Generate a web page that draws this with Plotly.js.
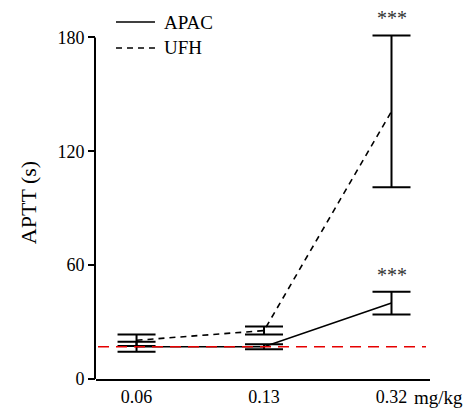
<!DOCTYPE html>
<html>
<head>
<meta charset="utf-8">
<script src="https://cdn.plot.ly/plotly-3.0.1.min.js"></script>
<style>html,body{margin:0;padding:0;background:#fff;}#chart{width:471px;height:410px;}</style>
</head>
<body>
<div id="chart"></div>
<script>
const doses = ["0.06", "0.13", "0.32"];
const doseUnit = "mg/kg";
const apacMean = [17, 17, 40];
const apacErr = [2.6, 1.3, 6];
const ufhMean = [20.4, 25.5, 141];
const ufhErr = [3, 2.1, 40];
const baselineAPTT = 17;
const yTicks = [0, 60, 120, 180];
const seriesNames = ["APAC", "UFH"];
const significance = ["", "", "***"];

const xIdx = doses.map((d, i) => i);
const FONT = "Liberation Serif, Times New Roman, serif";
const yAxisTop = yTicks[yTicks.length - 1];

const traces = [
  {
    x: xIdx, y: apacMean, name: seriesNames[0], type: "scatter", mode: "lines",
    line: {color: "black", width: 1.6},
    error_y: {type: "data", array: apacErr, visible: true, color: "black", thickness: 2, width: 19},
    cliponaxis: false, showlegend: false
  },
  {
    x: xIdx, y: ufhMean, name: seriesNames[1], type: "scatter", mode: "lines",
    line: {color: "black", width: 1.6, dash: "6px,5px"},
    error_y: {type: "data", array: ufhErr, visible: true, color: "black", thickness: 2, width: 19},
    cliponaxis: false, showlegend: false
  }
];

const annotations = [];
significance.forEach((s, i) => {
  if (!s) return;
  [[apacMean, apacErr], [ufhMean, ufhErr]].forEach(([m, e]) => {
    annotations.push({
      x: i, y: m[i] + e[i], xref: "x", yref: "y", text: s, showarrow: false,
      yshift: 17, font: {family: FONT, size: 20, color: "#333"}
    });
  });
});
annotations.push({
  x: 0.946, y: -0.051, xref: "paper", yref: "paper", text: doseUnit, showarrow: false,
  xanchor: "left", yanchor: "middle", font: {family: FONT, size: 19, color: "black"}
});
// manual legend labels
annotations.push({x: 0.1976, y: 1.0113, xref: "paper", yref: "paper", text: seriesNames[0], showarrow: false,
  xanchor: "left", yanchor: "middle", font: {family: FONT, size: 19, color: "black"}});
annotations.push({x: 0.1976, y: 0.9377, xref: "paper", yref: "paper", text: seriesNames[1], showarrow: false,
  xanchor: "left", yanchor: "middle", font: {family: FONT, size: 19, color: "black"}});

const shapes = [
  // y axis line, ending at the top tick
  {type: "line", xref: "paper", yref: "y", x0: -0.003, x1: -0.003, y0: 0, y1: yAxisTop,
   line: {color: "black", width: 2}, layer: "above"},
  {type: "line", xref: "paper", yref: "y", x0: 0.006, x1: 0.988, y0: baselineAPTT, y1: baselineAPTT,
   line: {color: "rgb(230,0,0)", width: 1.5, dash: "11px,7px"}, layer: "above"},
  {type: "line", xref: "paper", yref: "paper", x0: 0.0599, x1: 0.1766, y0: 1.0113, y1: 1.0113,
   line: {color: "black", width: 1.6}},
  {type: "line", xref: "paper", yref: "paper", x0: 0.0599, x1: 0.1766, y0: 0.9377, y1: 0.9377,
   line: {color: "black", width: 1.6, dash: "6px,5px"}}
];

const layout = {
  width: 471, height: 410,
  margin: {l: 96, r: 41, t: 26, b: 31},
  paper_bgcolor: "white", plot_bgcolor: "white",
  font: {family: FONT, color: "black"},
  showlegend: false,
  xaxis: {
    range: [-0.318, 2.302], tickvals: xIdx, ticktext: doses,
    showline: true, linewidth: 2, linecolor: "black", ticks: "",
    showgrid: false, zeroline: false, fixedrange: true,
    tickfont: {family: FONT, size: 18, color: "black"}
  },
  yaxis: {
    range: [0, 186], tickvals: yTicks, ticktext: yTicks.map(String),
    showline: false,
    ticks: "outside", ticklen: 7, tickwidth: 2, tickcolor: "black",
    showgrid: false, zeroline: false, fixedrange: true,
    tickfont: {family: FONT, size: 18, color: "black"},
    title: {text: "APTT (s)", font: {family: FONT, size: 22, color: "black"}, standoff: 14}
  },
  annotations: annotations,
  shapes: shapes
};

Plotly.newPlot("chart", traces, layout, {displayModeBar: false, staticPlot: true});
</script>
</body>
</html>
